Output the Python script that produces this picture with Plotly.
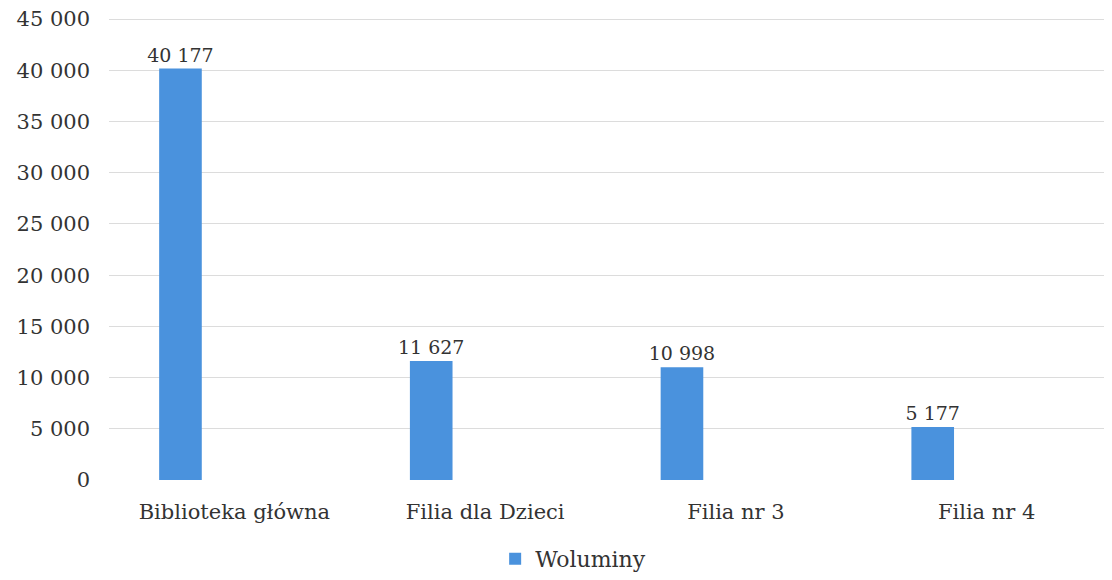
import plotly.graph_objects as go

categories = ["Biblioteka główna", "Filia dla Dzieci", "Filia nr 3", "Filia nr 4"]
woluminy = [40177, 11627, 10998, 5177]
series_name = "Woluminy"
y_ticks = [0, 5000, 10000, 15000, 20000, 25000, 30000, 35000, 40000, 45000]

font_family = "DejaVu Serif, serif"
text_color = "#333333"
bar_color = "#4A92DD"

fig = go.Figure()
fig.add_trace(go.Bar(
    x=categories, y=woluminy, name=series_name,
    marker=dict(color=bar_color, line=dict(width=0)),
    width=0.17, offset=-0.30,
    text=[f"{v:,}".replace(",", " ") for v in woluminy],
    textposition="outside", cliponaxis=False, constraintext="none",
    textfont=dict(family=font_family, size=19, color=text_color),
))

fig.update_layout(
    width=1104, height=572,
    margin=dict(l=101, r=0, t=6, b=97),
    paper_bgcolor="white", plot_bgcolor="white",
    separators=", ",
    font=dict(family=font_family, size=21, color=text_color),
    showlegend=True,
    legend=dict(orientation="h", x=0.385, xanchor="left", y=-0.17, yanchor="middle",
                font=dict(size=22, color=text_color)),
    bargap=0.2,
)
fig.update_yaxes(range=[0, 45500], tickvals=y_ticks, tickformat=",d",
                 showgrid=True, gridcolor="#dcdcdc", gridwidth=1,
                 zeroline=False, showline=False, ticks="",
                 ticklabelstandoff=18, tickfont=dict(size=21),
                 ticklabeloverflow="allow")
fig.update_xaxes(showline=False, ticks="", showgrid=False,
                 ticklabelstandoff=17, tickfont=dict(size=21))

fig.write_html("out.html")
